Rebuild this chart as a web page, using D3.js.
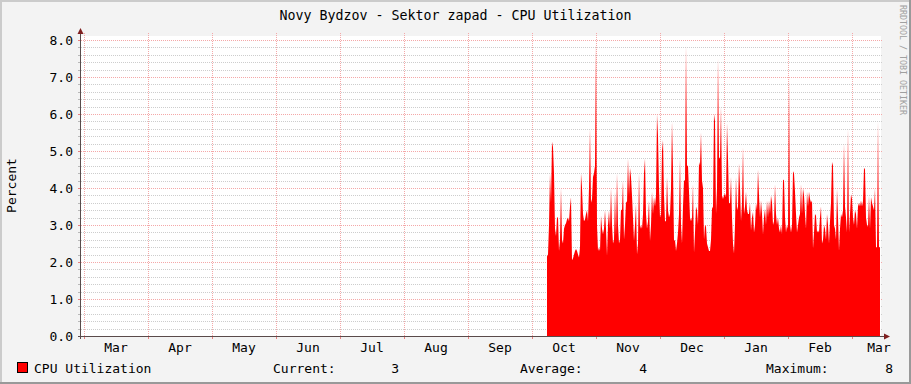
<!DOCTYPE html>
<html>
<head>
<meta charset="utf-8">
<script src="https://cdn.jsdelivr.net/npm/d3@7"></script>
<style>
  html, body { margin: 0; padding: 0; background: #f3f3f3; }
  svg { display: block; }
  text { font-family: "DejaVu Sans Mono", monospace; fill: #000; }
</style>
</head>
<body>
<svg id="chart" width="911" height="384"></svg>
<script>
// ---------------- data ----------------
const chartTitle = "Novy Bydzov - Sektor zapad - CPU Utilization";
const yAxisTitle = "Percent";
const watermark = "RRDTOOL / TOBI OETIKER";
const monthLabels = ["Mar","Apr","May","Jun","Jul","Aug","Sep","Oct","Nov","Dec","Jan","Feb","Mar"];
const yTickValues = [0, 1, 2, 3, 4, 5, 6, 7, 8];
const yMinorStep = 0.2;
const seriesName = "CPU Utilization";
const legendStats = [
  { label: "Current:", value: "3" },
  { label: "Average:", value: "4" },
  { label: "Maximum:", value: "8" }
];
// time axis in months since 1 Mar; samples every 1/64 month (~11 h)
const timeDomain = [-3/64, 797/64];
const cpuStart = 463/64;
const cpuStep = 1/64;
const cpuValues = [
2.15,2.2,3.0,4.4,3.6,5.25,5.1,4.4,2.9,2.7,
3.2,3.2,2.3,2.6,4.0,2.6,2.5,2.9,3.0,3.05,
3.15,3.2,3.1,3.5,3.75,2.05,2.1,2.2,2.3,2.35,
2.3,2.2,2.12,2.4,4.4,4.0,3.3,3.1,3.15,3.3,
3.4,3.1,4.0,5.6,3.6,3.7,4.3,4.4,4.6,7.93,
3.0,2.3,2.4,2.3,
3.25,2.9,2.75,2.9,3.4,2.9,2.17,3.0,3.4,2.9,
3.99,3.0,2.5,2.6,3.9,2.7,4.4,3.0,2.5,2.6,
3.42,3.4,4.2,2.6,3.0,3.64,3.6,4.8,3.8,4.54,
4.3,3.8,3.2,2.57,3.0,3.56,2.2,2.5,4.4,2.9,
3.0,2.9,3.3,4.4,4.8,3.3,2.9,3.1,3.66,2.57,
3.0,3.9,3.3,3.75,3.5,
3.8,6.0,5.4,4.0,3.2,3.3,5.0,5.3,3.8,3.1,
3.1,4.3,3.4,3.2,3.3,3.97,5.8,4.5,2.57,2.6,
2.3,2.5,2.8,3.3,4.8,3.0,2.5,3.5,4.2,4.2,
7.85,4.6,4.6,3.9,3.2,3.1,3.2,4.1,2.25,2.8,
3.5,3.4,3.0,4.7,4.6,5.5,4.2,4.0,2.6,3.0,
2.95,2.5,2.4,2.3,2.3,
2.6,3.44,3.5,6.0,5.8,3.3,4.0,7.5,4.83,4.8,
6.2,3.8,3.7,3.8,3.85,3.75,5.75,4.8,3.6,3.58,
4.3,3.2,2.5,2.23,3.0,4.3,3.4,3.5,4.66,4.0,
3.1,3.6,5.1,3.3,3.5,3.9,3.4,3.3,3.3,3.6,
2.85,3.2,3.35,2.8,3.0,3.6,3.4,4.5,3.8,3.2,
3.66,3.3,2.74,3.2,3.44,
3.0,3.66,3.2,3.66,3.3,3.8,3.6,3.0,3.1,4.1,
3.3,3.0,3.2,2.9,2.8,3.0,2.75,4.2,4.23,3.2,
2.8,3.0,2.9,7.0,3.0,2.8,3.0,4.45,4.4,3.9,
3.3,2.8,3.0,3.2,3.3,4.1,3.3,3.99,3.8,3.3,
2.9,3.9,3.5,3.9,3.7,3.6,3.66,2.36,2.8,3.3,
3.25,2.8,2.85,2.8,
3.2,3.5,2.5,2.6,3.0,2.9,2.6,3.3,3.0,2.5,
3.1,3.6,4.7,4.6,3.0,2.9,2.6,3.97,3.2,2.3,
2.9,3.3,3.2,3.4,5.2,3.5,3.2,2.8,5.6,2.8,
3.3,3.83,3.7,3.2,3.0,3.4,3.3,2.9,3.5,3.6,
3.5,3.66,3.5,3.64,4.55,4.5,3.2,3.0,2.95,3.8,
2.9,3.75,3.6,3.5,3.4,4.0,2.4,2.4,5.8,2.4,
2.4
];

// ---------------- drawing ----------------
const W = 911, H = 384;
const svg = d3.select("#chart");
const plot = { left: 81, right: 881, top: 36, bottom: 336 };

// background + 3D border
svg.append("rect").attr("width", W).attr("height", H).attr("fill", "#f3f3f3");
svg.append("rect").attr("x", 0).attr("y", 0).attr("width", W).attr("height", 2).attr("fill", "#cbcbcb");
svg.append("rect").attr("x", 0).attr("y", 0).attr("width", 2).attr("height", H).attr("fill", "#cbcbcb");
svg.append("rect").attr("x", 0).attr("y", H - 2).attr("width", W).attr("height", 2).attr("fill", "#999999");
svg.append("rect").attr("x", W - 2).attr("y", 0).attr("width", 2).attr("height", H).attr("fill", "#999999");

const x = d3.scaleLinear().domain(timeDomain).range([plot.left, plot.right]);
const y = d3.scaleLinear().domain([0, 300/37]).range([plot.bottom, plot.top]);

// canvas
svg.append("rect")
  .attr("x", plot.left).attr("y", plot.top)
  .attr("width", plot.right - plot.left).attr("height", plot.bottom - plot.top)
  .attr("fill", "#ffffff");

const grid = svg.append("g").attr("shape-rendering", "crispEdges");
const minorColor = "#cdcdcd";
const majorColor = "#f4a8a8";

// minor horizontal grid
const yMax = yTickValues[yTickValues.length - 1];
const minorVals = d3.range(0, yMax + 1e-9, yMinorStep).filter(v => Math.abs(v - Math.round(v)) > 1e-6);
minorVals.forEach(v => {
  const yy = Math.round(y(v)) + 0.5;
  grid.append("line").attr("x1", plot.left).attr("x2", plot.right + 2).attr("y1", yy).attr("y2", yy)
    .attr("stroke", minorColor).attr("stroke-dasharray", "1,1");
  grid.append("line").attr("x1", plot.left - 3).attr("x2", plot.left).attr("y1", yy).attr("y2", yy)
    .attr("stroke", "#b8b8b8");
});

// major horizontal grid
yTickValues.forEach(v => {
  const yy = Math.round(y(v)) + 0.5;
  if (v > 0) {
    grid.append("line").attr("x1", plot.left).attr("x2", plot.right + 2).attr("y1", yy).attr("y2", yy)
      .attr("stroke", majorColor).attr("stroke-dasharray", "1,1");
  }
  grid.append("line").attr("x1", plot.left - 3).attr("x2", plot.left).attr("y1", yy).attr("y2", yy)
    .attr("stroke", "#e88080");
});

// vertical month grid
const monthStarts = d3.range(0, monthLabels.length);
monthStarts.forEach(m => {
  const xx = Math.round(x(m)) + 0.5;
  grid.append("line").attr("x1", xx).attr("x2", xx).attr("y1", plot.top - 3).attr("y2", plot.bottom)
    .attr("stroke", majorColor).attr("stroke-dasharray", "1,1");
  grid.append("line").attr("x1", xx).attr("x2", xx).attr("y1", plot.bottom).attr("y2", plot.bottom + 3)
    .attr("stroke", "#e88080");
});

// data area
const area = d3.area()
  .x((d, i) => x(cpuStart + i * cpuStep))
  .y0(y(0))
  .y1(d => y(d))
  .curve(d3.curveLinear);
svg.append("path").datum(cpuValues).attr("d", area).attr("fill", "#ff0000");

// axes
const axes = svg.append("g").attr("shape-rendering", "crispEdges");
axes.append("line").attr("x1", plot.left - 3).attr("x2", plot.right + 4)
  .attr("y1", plot.bottom + 0.5).attr("y2", plot.bottom + 0.5).attr("stroke", "#5a4a4a");
axes.append("line").attr("x1", plot.left - 0.5).attr("x2", plot.left - 0.5)
  .attr("y1", plot.bottom + 3).attr("y2", plot.top - 4).attr("stroke", "#5a4a4a");
svg.append("path")
  .attr("d", `M${plot.left - 0.5},${plot.top - 8} L${plot.left - 3.5},${plot.top - 2} L${plot.left + 2.5},${plot.top - 2} Z`)
  .attr("fill", "#7f1f1f");
svg.append("path")
  .attr("d", `M${plot.right + 9},${plot.bottom + 0.5} L${plot.right + 3},${plot.bottom - 2.5} L${plot.right + 3},${plot.bottom + 3.5} Z`)
  .attr("fill", "#7f1f1f");

// y tick labels
svg.append("g").selectAll("text").data(yTickValues).join("text")
  .attr("x", 73).attr("y", d => y(d) + 4.5)
  .attr("text-anchor", "end").attr("font-size", "13px")
  .text(d => d3.format(".1f")(d));

// month labels (centered in month)
svg.append("g").selectAll("text").data(monthLabels).join("text")
  .attr("x", (d, i) => Math.min(x(i + 0.5), plot.right - 2))
  .attr("y", 351.5)
  .attr("text-anchor", "middle").attr("font-size", "13px")
  .text(d => d);

// title
svg.append("text").attr("x", 455.5).attr("y", 20).attr("text-anchor", "middle")
  .attr("font-size", "13.3px").text(chartTitle);

// y axis title
svg.append("text").attr("transform", "translate(15.5,185.5) rotate(-90)")
  .attr("text-anchor", "middle").attr("font-size", "13px").text(yAxisTitle);

// watermark
svg.append("text").attr("transform", "translate(900,5) rotate(90)")
  .attr("text-anchor", "start").attr("font-size", "8.3px")
  .style("fill", "#a0a0a0").text(watermark);

// legend
const ly = 372.5;
svg.append("rect").attr("x", 17.5).attr("y", 362.5).attr("width", 10).attr("height", 10)
  .attr("fill", "#ff0000").attr("stroke", "#000").attr("stroke-width", 1);
svg.append("text").attr("x", 34).attr("y", ly).attr("font-size", "13px").text(seriesName);
const statLabelX = [273, 520, 766];
const statValueX = [399, 647, 893];
legendStats.forEach((s, i) => {
  svg.append("text").attr("x", statLabelX[i]).attr("y", ly).attr("font-size", "13px").text(s.label);
  svg.append("text").attr("x", statValueX[i]).attr("y", ly).attr("text-anchor", "end")
    .attr("font-size", "13px").text(s.value);
});
</script>
</body>
</html>
